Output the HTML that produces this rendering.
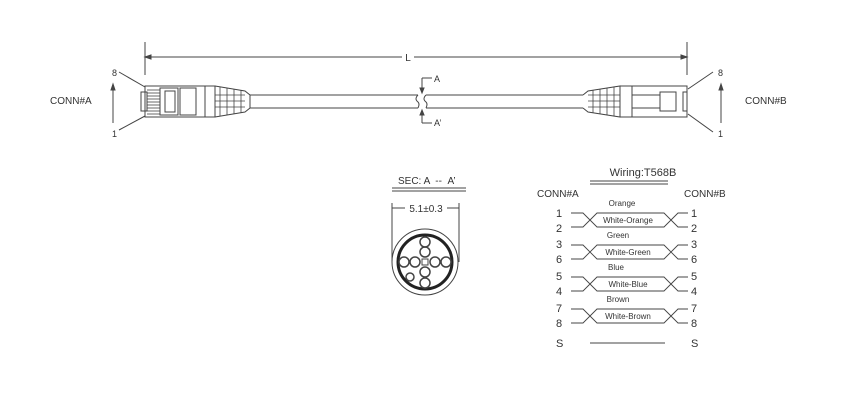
<!DOCTYPE html>
<html><head><meta charset="utf-8"><style>
html,body{margin:0;padding:0;background:#fff;width:852px;height:404px;overflow:hidden}
svg{display:block}
text{font-family:"Liberation Sans",sans-serif;fill:#333}
</style></head><body>
<svg width="852" height="404" viewBox="0 0 852 404" xmlns="http://www.w3.org/2000/svg" stroke="#444" fill="none" stroke-width="1">
<!-- dimension L -->
<line x1="145" y1="42" x2="145" y2="75"/>
<line x1="687" y1="42" x2="687" y2="75"/>
<line x1="145" y1="57" x2="402" y2="57"/>
<line x1="414" y1="57" x2="687" y2="57"/>
<path d="M145 57 l6 -2 v4 z M687 57 l-6 -2 v4 z" fill="#444"/>
<text x="408" y="61" font-size="10" text-anchor="middle" stroke="none">L</text>

<!-- cable -->
<line x1="250" y1="95" x2="418" y2="95"/><line x1="250" y1="108" x2="418" y2="108"/>
<line x1="426" y1="95" x2="583" y2="95"/><line x1="426" y1="108" x2="583" y2="108"/>
<path d="M418 95 q-4 4 0 7 q2 2 0 6 M426 95 q-4 4 0 7 q2 2 0 6"/>
<line x1="422" y1="78" x2="422" y2="93"/><line x1="422" y1="78" x2="432" y2="78"/>
<line x1="422" y1="110" x2="422" y2="123"/><line x1="422" y1="123" x2="432" y2="123"/>
<path d="M422 93 l-2 -5 h4 z M422 110 l-2 5 h4 z" fill="#444"/>
<text x="434" y="82" font-size="9" stroke="none">A</text>
<text x="434" y="126" font-size="9" stroke="none">A’</text>

<!-- left connector -->
<rect x="145" y="86" width="70" height="31"/>
<rect x="141" y="92" width="6" height="19"/>
<g stroke-width="0.8"><line x1="147" y1="90" x2="160" y2="90"/><line x1="147" y1="93" x2="160" y2="93"/><line x1="147" y1="96" x2="160" y2="96"/><line x1="147" y1="99" x2="160" y2="99"/><line x1="147" y1="102" x2="160" y2="102"/><line x1="147" y1="105" x2="160" y2="105"/><line x1="147" y1="108" x2="160" y2="108"/><line x1="147" y1="111" x2="160" y2="111"/><line x1="147" y1="114" x2="160" y2="114"/></g>
<rect x="160" y="88" width="18" height="27"/>
<rect x="165" y="91" width="10" height="21"/>
<rect x="180" y="88" width="16" height="27"/>
<line x1="196" y1="88" x2="196" y2="115"/><line x1="205" y1="86" x2="205" y2="117"/>
<path d="M215 86 L245 91 L250 95 L250 108 L245 112 L215 117"/>
<g stroke-width="0.8"><line x1="220" y1="87" x2="220" y2="116"/><line x1="227" y1="88" x2="227" y2="115"/><line x1="234" y1="89" x2="234" y2="114"/><line x1="241" y1="90" x2="241" y2="113"/>
<line x1="215" y1="95" x2="245" y2="95"/><line x1="215" y1="101" x2="245" y2="101"/><line x1="215" y1="107" x2="245" y2="107"/></g>
<line x1="119" y1="72" x2="145" y2="87"/><line x1="119" y1="130" x2="145" y2="116"/>
<text x="112" y="76" font-size="9" stroke="none">8</text>
<text x="112" y="137" font-size="9" stroke="none">1</text>
<line x1="113" y1="84" x2="113" y2="123"/><path d="M113 84 l-2 6 h4 z" fill="#444"/>
<text x="50" y="104" font-size="10" stroke="none">CONN#A</text>

<!-- right connector -->
<path d="M583 95 L588 91 L620 86 L620 117 L588 112 L583 108"/>
<g stroke-width="0.8"><line x1="593" y1="90" x2="593" y2="113"/><line x1="600" y1="89" x2="600" y2="114"/><line x1="607" y1="88" x2="607" y2="115"/><line x1="614" y1="87" x2="614" y2="116"/>
<line x1="588" y1="95" x2="620" y2="95"/><line x1="588" y1="101" x2="620" y2="101"/><line x1="588" y1="107" x2="620" y2="107"/></g>
<rect x="620" y="86" width="67" height="31"/>
<line x1="632" y1="86" x2="632" y2="117"/>
<rect x="632" y="95" width="28" height="13"/>
<rect x="660" y="92" width="16" height="19"/>
<rect x="683" y="92" width="4" height="19"/>
<line x1="688" y1="89" x2="713" y2="72"/><line x1="688" y1="114" x2="713" y2="132"/>
<text x="718" y="76" font-size="9" stroke="none">8</text>
<text x="718" y="137" font-size="9" stroke="none">1</text>
<line x1="721" y1="84" x2="721" y2="123"/><path d="M721 84 l-2 6 h4 z" fill="#444"/>
<text x="745" y="104" font-size="10" stroke="none">CONN#B</text>

<!-- section -->
<text x="398" y="184" font-size="10" stroke="none">SEC: A &#160;-- &#160;A’</text>
<line x1="392" y1="188" x2="466" y2="188"/><line x1="392" y1="191" x2="466" y2="191"/>
<line x1="392" y1="203" x2="392" y2="262"/><line x1="459" y1="203" x2="459" y2="262"/>
<line x1="392" y1="208" x2="405" y2="208"/><line x1="447" y1="208" x2="459" y2="208"/>
<text x="426" y="212" font-size="10" text-anchor="middle" stroke="none">5.1±0.3</text>
<circle cx="425" cy="262" r="33"/>
<circle cx="425" cy="262" r="27" stroke-width="3" stroke="#222"/>
<g stroke-width="1.5">
<circle cx="425" cy="242" r="5"/><circle cx="425" cy="252" r="5"/><circle cx="425" cy="272" r="5"/><circle cx="425" cy="283" r="5"/>
<circle cx="415" cy="262" r="5"/><circle cx="404" cy="262" r="5"/><circle cx="435" cy="262" r="5"/><circle cx="446" cy="262" r="5"/>
<circle cx="410" cy="277" r="4"/></g>
<rect x="422" y="259" width="6" height="6"/>

<!-- wiring -->
<text x="643" y="176" font-size="11" text-anchor="middle" stroke="none">Wiring:T568B</text>
<line x1="590" y1="181" x2="668" y2="181"/><line x1="590" y1="184" x2="668" y2="184"/>
<text x="537" y="197" font-size="10" stroke="none">CONN#A</text>
<text x="684" y="197" font-size="10" stroke="none">CONN#B</text>
<g font-size="11" stroke="none">
<text x="556" y="217" fill="#333">1</text><text x="556" y="232">2</text><text x="556" y="248">3</text><text x="556" y="263">6</text><text x="556" y="280">5</text><text x="556" y="295">4</text><text x="556" y="312">7</text><text x="556" y="327">8</text><text x="556" y="347">S</text>
<text x="691" y="217">1</text><text x="691" y="232">2</text><text x="691" y="248">3</text><text x="691" y="263">6</text><text x="691" y="280">5</text><text x="691" y="295">4</text><text x="691" y="312">7</text><text x="691" y="327">8</text><text x="691" y="347">S</text>
</g>
<g stroke-width="0.9">
<path id="p" d="M571 213 H583 L597 227 H664 L678 213 H688 M571 227 H583 L597 213 H664 L678 227 H688"/>
<use href="#p" y="32"/><use href="#p" y="64"/><use href="#p" y="96"/>
</g>
<line x1="590" y1="343" x2="665" y2="343"/>
<g font-size="8" text-anchor="middle" stroke="none">
<text x="622" y="206">Orange</text><text x="628" y="223">White-Orange</text>
<text x="618" y="238">Green</text><text x="628" y="255">White-Green</text>
<text x="616" y="270">Blue</text><text x="628" y="287">White-Blue</text>
<text x="618" y="302">Brown</text><text x="628" y="319">White-Brown</text>
</g>
</svg>
</body></html>
